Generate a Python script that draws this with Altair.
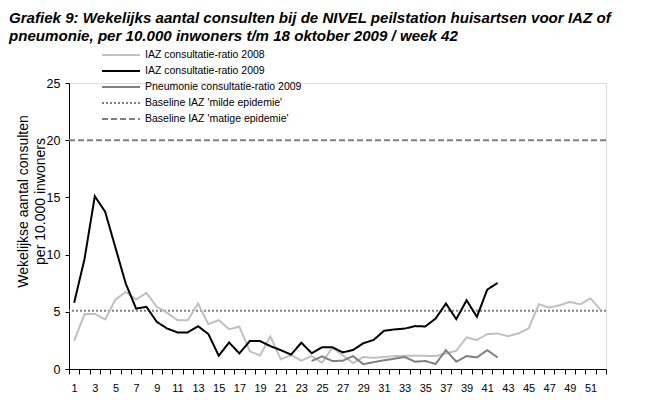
import altair as alt
import pandas as pd

weeks = list(range(1, 53))

iaz_2008 = [2.47, 4.79, 4.82, 4.33, 6.07, 6.74, 6.07, 6.65, 5.43, 4.91,
            4.27, 4.27, 5.72, 3.92, 4.27, 3.48, 3.70, 1.55, 1.18, 2.85,
            0.85, 1.22, 0.73, 1.13, 0.55, 1.85, 1.20, 0.52, 1.05, 0.97,
            1.05, 1.13, 1.15, 1.17, 1.15, 1.13, 1.36, 1.60, 2.76, 2.53,
            3.05, 3.10, 2.87, 3.10, 3.54, 5.66, 5.37, 5.57, 5.86, 5.66,
            6.16, 5.14]

iaz_2009 = [5.80, 9.60, 15.10, 13.75, 10.60, 7.45, 5.28, 5.43, 4.12, 3.54,
            3.20, 3.20, 3.74, 3.05, 1.16, 2.32, 1.36, 2.44, 2.44, 2.00,
            1.65, 1.26, 2.30, 1.38, 1.89, 1.91, 1.45, 1.66, 2.25, 2.54,
            3.34, 3.46, 3.53, 3.75, 3.72, 4.41, 5.72, 4.36, 6.01, 4.56,
            6.94, 7.52]

pneu_weeks = list(range(24, 43))
pneu_2009 = [0.70, 1.10, 0.70, 0.72, 1.13, 0.42, 0.60, 0.76, 0.90, 1.05,
             0.64, 0.70, 0.44, 1.65, 0.64, 1.13, 1.01, 1.65, 1.01]

series_names = ["IAZ consultatie-ratio 2008",
                "IAZ consultatie-ratio 2009",
                "Pneumonie consultatie-ratio 2009",
                "Baseline IAZ 'milde epidemie'",
                "Baseline IAZ 'matige epidemie'"]
series_colors = ["#c0c0c0", "#000000", "#808080", "#808080", "#808080"]
series_dash = [[1, 0], [1, 0], [1, 0], [2, 2], [6, 3]]

baseline_values = [5.1, 20.0]

y_ticks = [0, 5, 10, 15, 20, 25]

lines_df = pd.concat([
    pd.DataFrame({"week": weeks, "value": iaz_2008, "series": series_names[0]}),
    pd.DataFrame({"week": weeks[:len(iaz_2009)], "value": iaz_2009, "series": series_names[1]}),
    pd.DataFrame({"week": pneu_weeks, "value": pneu_2009, "series": series_names[2]}),
], ignore_index=True)

base_df = pd.DataFrame({"value": baseline_values, "series": series_names[3:]})


def make_legend():
    return alt.Legend(
        title=None, orient="none", legendX=46, legendY=-34,
        symbolType="M-3.8,0H3.8", symbolSize=100, symbolStrokeWidth=2,
        labelFont="Liberation Sans", labelFontSize=10.5, labelColor="#000000",
        labelOffset=18, rowPadding=4, padding=0, labelLimit=400,
    )


color = alt.Color(
    "series:N",
    scale=alt.Scale(domain=series_names, range=series_colors),
    legend=make_legend(),
)
dash = alt.StrokeDash(
    "series:N",
    scale=alt.Scale(domain=series_names, range=series_dash),
    legend=make_legend(),
)

y_enc = alt.Y(
    "value:Q",
    scale=alt.Scale(domain=[0, 25], nice=False),
    axis=alt.Axis(
        values=y_ticks, grid=False, tickSize=4, labelPadding=5,
        labelFont="Liberation Sans", labelFontSize=12.5, labelColor="#000000",
        domainColor="#000000", tickColor="#000000",
        title=["Wekelijkse aantal consulten", "per 10.000 inwoners"],
        titleFont="Liberation Sans", titleFontSize=14, titleFontWeight="normal",
        titleColor="#000000", titleAngle=-90, titleAlign="center",
        titleBaseline="alphabetic", titleX=-41.5, titleY=118, titleLineHeight=17,
    ),
)

x_enc = alt.X(
    "week:O",
    bandPosition=0.5,
    scale=alt.Scale(type="band", domain=weeks, paddingInner=0, paddingOuter=0),
    axis=alt.Axis(
        title=None, labelAngle=0, tickBand="extent", tickSize=5, labelPadding=8,
        labelExpr="datum.value % 2 == 1 ? datum.label : ''",
        labelFont="Liberation Sans", labelFontSize=11, labelColor="#000000",
        domainColor="#000000", tickColor="#000000",
    ),
)

rules = alt.Chart(base_df).mark_rule(strokeWidth=2).encode(
    y=y_enc, color=color, strokeDash=dash,
)

lines = alt.Chart(lines_df).mark_line(strokeWidth=2).encode(
    x=x_enc, y=y_enc, color=color, strokeDash=dash,
    order=alt.Order("week:Q"),
)

chart = alt.layer(rules, lines).properties(
    width=537, height=286,
    padding={"left": 0, "top": 2, "right": 5, "bottom": 5},
    title=alt.TitleParams(
        text=["Grafiek 9: Wekelijks aantal consulten bij de NIVEL peilstation huisartsen voor IAZ of",
              "pneumonie, per 10.000 inwoners t/m 18 oktober 2009 / week 42"],
        anchor="start", font="Liberation Sans", fontSize=15.1, fontWeight="bold",
        fontStyle="italic", color="#000000", lineHeight=18, offset=5, dx=-7.5,
    ),
).configure_view(stroke=None).configure(background="white")

chart.save("out.html", embed_options={"renderer": "svg", "actions": False})
